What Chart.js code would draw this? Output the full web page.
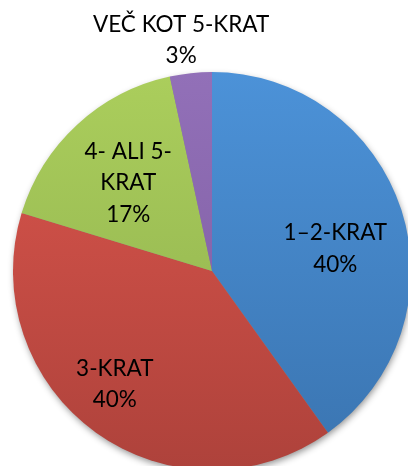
<!DOCTYPE html>
<html>
<head>
<meta charset="utf-8">
<script src="https://cdn.jsdelivr.net/npm/chart.js@4"></script>
<style>
  html, body { margin: 0; padding: 0; background: #fff; overflow: hidden; width: 408px; height: 466px; }
  #wrap { position: absolute; left: 0; top: 0; width: 424px; height: 480px; }
</style>
</head>
<body>
<div id="wrap"><canvas id="c"></canvas></div>
<script>
const categories = ["1–2-KRAT", "3-KRAT", "4- ALI 5-KRAT", "VEČ KOT 5-KRAT"];
const labelLines = [["1–2-KRAT"], ["3-KRAT"], ["4- ALI 5-", "KRAT"], ["VEČ KOT 5-KRAT"]];
const values = [40.1, 39.6, 16.9, 3.4];
const topColors = ["#4C92D8", "#DC564D", "#ABCE5C", "#9270B8"];
const bottomColors = ["#3A74B0", "#AE423B", "#8DAE4D", "#7B5A9E"];

const FONT = "22.5px Lato, 'Open Sans', sans-serif";

function gradientFor(ctx) {
  const chart = ctx.chart;
  const area = chart.chartArea;
  if (!area) return topColors[ctx.dataIndex];
  const g = chart.ctx.createLinearGradient(0, area.top, 0, area.bottom);
  g.addColorStop(0, topColors[ctx.dataIndex]);
  g.addColorStop(1, bottomColors[ctx.dataIndex]);
  return g;
}

const shadowPlugin = {
  id: 'pieShadow',
  beforeDatasetsDraw(chart) {
    const meta = chart.getDatasetMeta(0);
    if (!meta.data.length) return;
    const arc = meta.data[0];
    const c = chart.ctx;
    c.save();
    c.shadowColor = 'rgba(0,0,0,0.45)';
    c.shadowBlur = 7;
    c.shadowOffsetX = 1;
    c.shadowOffsetY = 3;
    c.fillStyle = '#888';
    c.beginPath();
    c.arc(arc.x, arc.y, arc.outerRadius - 1, 0, Math.PI * 2);
    c.fill();
    c.restore();
  }
};

const labelPlugin = {
  id: 'sliceLabels',
  afterDatasetsDraw(chart, args, opts) {
    const meta = chart.getDatasetMeta(0);
    const data = chart.data.datasets[0].data;
    const total = data.reduce((a, b) => a + b, 0);
    const c = chart.ctx;
    c.save();
    c.font = FONT;
    c.fillStyle = '#000';
    c.textAlign = 'center';
    c.textBaseline = 'middle';
    meta.data.forEach((arc, i) => {
      const p = opts.placement[i];
      const mid = (arc.startAngle + arc.endAngle) / 2 + p.da * Math.PI / 180;
      const r = arc.outerRadius * p.r;
      const x = arc.x + Math.cos(mid) * r;
      const y = arc.y + Math.sin(mid) * r;
      const lines = labelLines[i].concat([Math.round(data[i] / total * 100) + "%"]);
      const lh = opts.lineHeight;
      const y0 = y - (lines.length - 1) * lh / 2;
      lines.forEach((t, k) => c.fillText(t, x, y0 + k * lh));
    });
    c.restore();
  }
};

new Chart(document.getElementById('c'), {
  type: 'pie',
  data: {
    labels: categories,
    datasets: [{
      data: values,
      backgroundColor: gradientFor,
      borderWidth: 0
    }]
  },
  options: {
    responsive: true,
    maintainAspectRatio: false,
    animation: false,
    layout: { padding: { top: 72, left: 13, right: 13, bottom: 10 } },
    plugins: {
      legend: { display: false },
      tooltip: { enabled: false },
      sliceLabels: {
        lineHeight: 31.5,
        placement: [
          { r: 0.63, da: 7.5 },
          { r: 0.75, da: 5 },
          { r: 0.61, da: -1 },
          { r: 1.17, da: -1.5 }
        ]
      }
    }
  },
  plugins: [shadowPlugin, labelPlugin]
});
</script>
</body>
</html>
